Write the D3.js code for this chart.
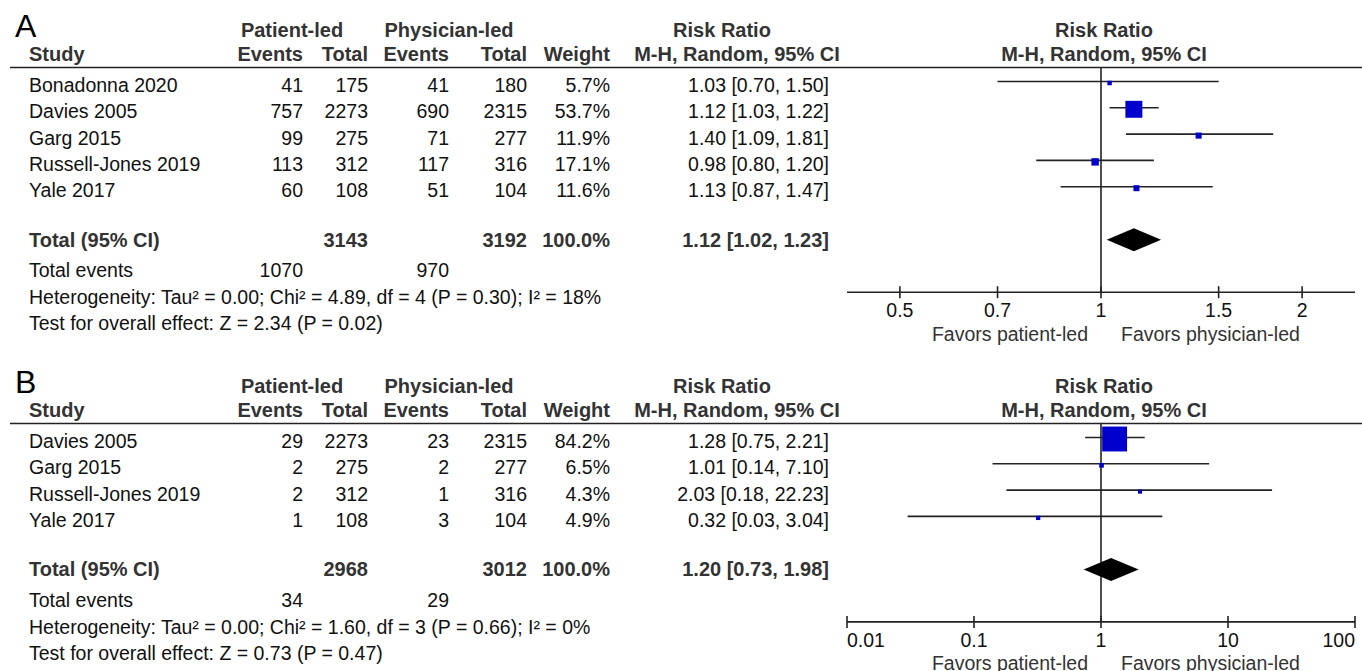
<!DOCTYPE html>
<html>
<head>
<meta charset="utf-8">
<script src="https://cdn.jsdelivr.net/npm/d3@7"></script>
<style>
  html, body { margin: 0; padding: 0; background: #fff; }
  svg { display: block; }
  text { font-family: "Liberation Sans", Arial, sans-serif; }
</style>
</head>
<body>
<svg id="chart" width="1362" height="671"></svg>
<script>
// ---------------- Data: Panel A ----------------
const studiesA = ["Bonadonna 2020", "Davies 2005", "Garg 2015", "Russell-Jones 2019", "Yale 2017"];
const patEventsA = [41, 757, 99, 113, 60];
const patTotalA = [175, 2273, 275, 312, 108];
const phyEventsA = [41, 690, 71, 117, 51];
const phyTotalA = [180, 2315, 277, 316, 104];
const weightA = [5.7, 53.7, 11.9, 17.1, 11.6];
const rrA = [1.03, 1.12, 1.40, 0.98, 1.13];
const lowA = [0.70, 1.03, 1.09, 0.80, 0.87];
const highA = [1.50, 1.22, 1.81, 1.20, 1.47];
const totalA = { patTotal: 3143, phyTotal: 3192, weight: 100.0, rr: 1.12, low: 1.02, high: 1.23, patEvents: 1070, phyEvents: 970 };
const hetA = "Heterogeneity: Tau² = 0.00; Chi² = 4.89, df = 4 (P = 0.30); I² = 18%";
const testA = "Test for overall effect: Z = 2.34 (P = 0.02)";
const ticksA = [0.5, 0.7, 1, 1.5, 2];
const domainA = [1 / 2.4, 2.4];

// ---------------- Data: Panel B ----------------
const studiesB = ["Davies 2005", "Garg 2015", "Russell-Jones 2019", "Yale 2017"];
const patEventsB = [29, 2, 2, 1];
const patTotalB = [2273, 275, 312, 108];
const phyEventsB = [23, 2, 1, 3];
const phyTotalB = [2315, 277, 316, 104];
const weightB = [84.2, 6.5, 4.3, 4.9];
const rrB = [1.28, 1.01, 2.03, 0.32];
const lowB = [0.75, 0.14, 0.18, 0.03];
const highB = [2.21, 7.10, 22.23, 3.04];
const totalB = { patTotal: 2968, phyTotal: 3012, weight: 100.0, rr: 1.20, low: 0.73, high: 1.98, patEvents: 34, phyEvents: 29 };
const hetB = "Heterogeneity: Tau² = 0.00; Chi² = 1.60, df = 3 (P = 0.66); I² = 0%";
const testB = "Test for overall effect: Z = 0.73 (P = 0.47)";
const ticksB = [0.01, 0.1, 1, 10, 100];
const domainB = [0.01, 100];

const favorsLeft = "Favors patient-led";
const favorsRight = "Favors physician-led";

// ---------------- Layout ----------------
const FS = 19.5;
const FSB = 20;
const col = { study: 29, patEv: 303, patTot: 368, phyEv: 449, phyTot: 527, weight: 610, rr: 829 };
const plotRange = [847, 1355];
const rowH = 26.3;
const txtColor = "#111";
const hdrColor = "#333";
const sizeScale = d3.scaleLinear().domain([0, 100]).range([3, 29]);

const svg = d3.select("#chart");

function fmtRR(r, l, h) { return r.toFixed(2) + " [" + l.toFixed(2) + ", " + h.toFixed(2) + "]"; }

function drawPanel(top, letter, studies, pe, pt, qe, qt, w, rr, lo, hi, tot, het, test, ticks, domain) {
  const g = svg.append("g").attr("transform", `translate(0,${top})`);
  const n = studies.length;
  const x = d3.scaleLog().domain(domain).range(plotRange);
  const rowY = i => 83 + rowH * i;
  const totY = rowY(n - 1) + 51.5;
  const evY = totY + 30.5;
  const hetY = evY + 27;
  const testY = hetY + 26;
  const axisY = totY + 52.5;

  const t = (xx, yy, s, anchor, bold, color, size) =>
    g.append("text").attr("x", xx).attr("y", yy).text(s)
      .attr("text-anchor", anchor || "start")
      .attr("font-weight", bold ? "bold" : "normal")
      .attr("fill", color || txtColor)
      .attr("font-size", size || (bold ? FSB : FS));

  // panel letter
  t(15, 37, letter, "start", false, "#000", 32);

  // headers
  t(292, 37, "Patient-led", "middle", true, hdrColor);
  t(449, 37, "Physician-led", "middle", true, hdrColor);
  t(722, 37, "Risk Ratio", "middle", true, hdrColor);
  t(1104, 37, "Risk Ratio", "middle", true, hdrColor);
  t(col.study, 60.5, "Study", "start", true, hdrColor);
  t(col.patEv, 60.5, "Events", "end", true, hdrColor);
  t(col.patTot, 60.5, "Total", "end", true, hdrColor);
  t(col.phyEv, 60.5, "Events", "end", true, hdrColor);
  t(col.phyTot, 60.5, "Total", "end", true, hdrColor);
  t(col.weight, 60.5, "Weight", "end", true, hdrColor);
  t(737, 60.5, "M-H, Random, 95% CI", "middle", true, hdrColor);
  t(1104, 60.5, "M-H, Random, 95% CI", "middle", true, hdrColor);

  g.append("line").attr("x1", 10).attr("x2", 1362).attr("y1", 67.5).attr("y2", 67.5)
    .attr("stroke", "#222").attr("stroke-width", 1.6);

  // study rows
  studies.forEach((s, i) => {
    const y = rowY(i) + 9;
    t(col.study, y, s);
    t(col.patEv, y, pe[i], "end");
    t(col.patTot, y, pt[i], "end");
    t(col.phyEv, y, qe[i], "end");
    t(col.phyTot, y, qt[i], "end");
    t(col.weight, y, w[i].toFixed(1) + "%", "end");
    t(col.rr, y, fmtRR(rr[i], lo[i], hi[i]), "end");
  });

  // totals
  const b = 7;
  t(col.study, totY + b, "Total (95% CI)", "start", true, hdrColor);
  t(col.patTot, totY + b, tot.patTotal, "end", true, hdrColor);
  t(col.phyTot, totY + b, tot.phyTotal, "end", true, hdrColor);
  t(col.weight, totY + b, tot.weight.toFixed(1) + "%", "end", true, hdrColor);
  t(col.rr, totY + b, fmtRR(tot.rr, tot.low, tot.high), "end", true, hdrColor);
  t(col.study, evY + b, "Total events");
  t(col.patEv, evY + b, tot.patEvents, "end");
  t(col.phyEv, evY + b, tot.phyEvents, "end");
  t(col.study, hetY + b, het);
  t(col.study, testY + b, test);

  // forest: null line
  g.append("line").attr("x1", x(1)).attr("x2", x(1)).attr("y1", 67.5).attr("y2", axisY)
    .attr("stroke", "#222").attr("stroke-width", 1.6);

  // CI lines
  studies.forEach((s, i) => {
    g.append("line")
      .attr("x1", x(Math.max(lo[i], domain[0]))).attr("x2", x(Math.min(hi[i], domain[1])))
      .attr("y1", rowY(i) - 1.5).attr("y2", rowY(i) - 1.5)
      .attr("stroke", "#222").attr("stroke-width", 1.6);
  });
  // squares
  studies.forEach((s, i) => {
    const sz = sizeScale(w[i]);
    g.append("rect")
      .attr("x", x(rr[i]) - sz / 2).attr("y", rowY(i) - sz / 2)
      .attr("width", sz).attr("height", sz)
      .attr("fill", "#0000CC");
  });
  // diamond
  const dh = 11.5;
  g.append("path")
    .attr("d", `M${x(tot.low)},${totY} L${x(tot.rr)},${totY - dh} L${x(tot.high)},${totY} L${x(tot.rr)},${totY + dh} Z`)
    .attr("fill", "#000");

  // axis
  const axisG = g.append("g").attr("transform", `translate(0,${axisY})`);
  axisG.append("line").attr("x1", plotRange[0]).attr("x2", plotRange[1]).attr("y1", 0).attr("y2", 0)
    .attr("stroke", "#222").attr("stroke-width", 1.6);
  ticks.forEach((v, k) => {
    axisG.append("line").attr("x1", x(v)).attr("x2", x(v)).attr("y1", -6).attr("y2", 6)
      .attr("stroke", "#222").attr("stroke-width", 1.6);
    const xv = x(v);
    let anchor = "middle";
    if (Math.abs(xv - plotRange[0]) < 1) anchor = "start";
    if (Math.abs(xv - plotRange[1]) < 1) anchor = "end";
    axisG.append("text").attr("x", xv).attr("y", 25).attr("text-anchor", anchor)
      .attr("font-size", FS).attr("fill", txtColor).text(String(v));
  });
  axisG.append("text").attr("x", 1088).attr("y", 48.5).attr("text-anchor", "end")
    .attr("font-size", FS).attr("fill", hdrColor).text(favorsLeft);
  axisG.append("text").attr("x", 1121).attr("y", 48.5).attr("text-anchor", "start")
    .attr("font-size", FS).attr("fill", hdrColor).text(favorsRight);
}

drawPanel(0, "A", studiesA, patEventsA, patTotalA, phyEventsA, phyTotalA, weightA, rrA, lowA, highA, totalA, hetA, testA, ticksA, domainA);
drawPanel(356, "B", studiesB, patEventsB, patTotalB, phyEventsB, phyTotalB, weightB, rrB, lowB, highB, totalB, hetB, testB, ticksB, domainB);
</script>
</body>
</html>
